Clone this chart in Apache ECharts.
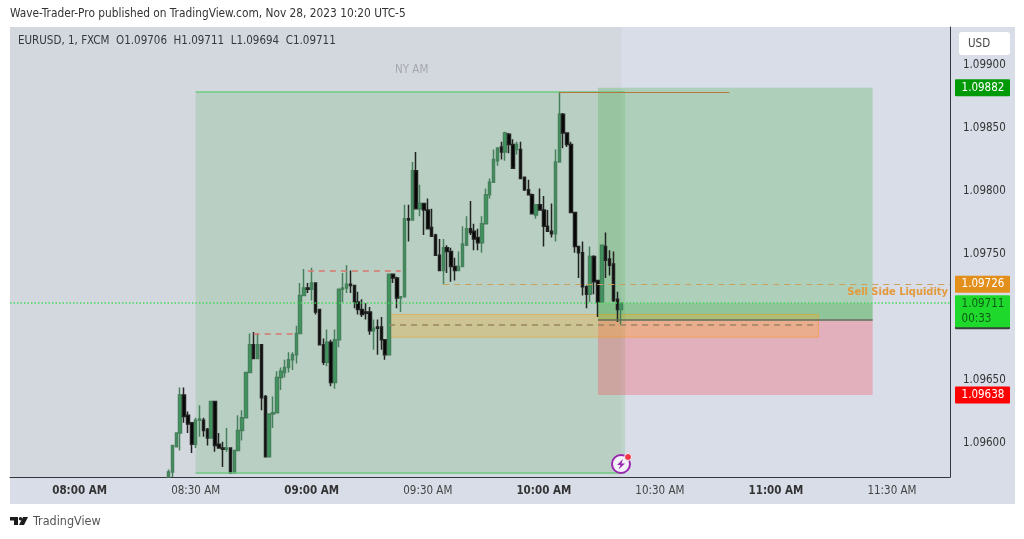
<!DOCTYPE html>
<html>
<head>
<meta charset="utf-8">
<style>html,body{margin:0;padding:0;background:#fff}#main{width:1024px;height:539px}</style>
<script src="https://cdn.jsdelivr.net/npm/echarts@6/dist/echarts.min.js"></script>
</head>
<body>
<div id="main"></div>
<script>
// one minute bars, [open, close, low, high], first bar is 08:23
var ohlc = [
[1.09573,1.09577,1.09573,1.09579],[1.09577,1.09598,1.09573,1.09598],[1.09597,1.09608,1.09597,1.09608],[1.09608,1.09638,1.09594,1.09644],
[1.09638,1.09621,1.09616,1.09644],[1.09622,1.09615,1.09608,1.09625],[1.09616,1.09599,1.09592,1.09616],[1.09599,1.09618,1.09596,1.09620],
[1.09618,1.09619,1.09605,1.09630],[1.09618,1.09610,1.09605,1.09620],[1.09611,1.09604,1.09598,1.09612],[1.09604,1.09633,1.09604,1.09633],
[1.09633,1.09598,1.09593,1.09633],[1.09599,1.09596,1.09596,1.09608],[1.09596,1.09595,1.09581,1.09601],[1.09595,1.09596,1.09593,1.09612],
[1.09596,1.09576,1.09576,1.09596],[1.09576,1.09594,1.09576,1.09594],[1.09594,1.09610,1.09594,1.09622],[1.09610,1.09620,1.09602,1.09626],
[1.09620,1.09656,1.09620,1.09656],[1.09656,1.09678,1.09656,1.09687],[1.09678,1.09667,1.09667,1.09688],[1.09667,1.09678,1.09667,1.09687],
[1.09678,1.09636,1.09626,1.09678],[1.09637,1.09589,1.09589,1.09638],[1.09589,1.09623,1.09589,1.09623],[1.09623,1.09624,1.09612,1.09637],
[1.09624,1.09652,1.09624,1.09657],[1.09652,1.09657,1.09642,1.09660],[1.09656,1.09660,1.09652,1.09666],[1.09660,1.09666,1.09656,1.09672],
[1.09666,1.09670,1.09658,1.09672],[1.09670,1.09687,1.09663,1.09693],[1.09687,1.09717,1.09687,1.09727],[1.09717,1.09723,1.09717,1.09738],
[1.09723,1.09722,1.09719,1.09727],[1.09722,1.09727,1.09713,1.09739],[1.09727,1.09704,1.09702,1.09727],[1.09706,1.09678,1.09678,1.09706],
[1.09678,1.09664,1.09662,1.09683],[1.09664,1.09680,1.09661,1.09690],[1.09680,1.09648,1.09645,1.09682],[1.09648,1.09682,1.09643,1.09690],
[1.09682,1.09722,1.09676,1.09722],[1.09722,1.09723,1.09712,1.09735],[1.09723,1.09726,1.09719,1.09741],[1.09726,1.09725,1.09719,1.09737],
[1.09725,1.09712,1.09707,1.09725],[1.09712,1.09706,1.09702,1.09720],[1.09706,1.09702,1.09700,1.09714],[1.09704,1.09703,1.09698,1.09711],
[1.09704,1.09689,1.09686,1.09708],[1.09689,1.09691,1.09674,1.09698],[1.09692,1.09691,1.09670,1.09698],[1.09692,1.09682,1.09674,1.09700],
[1.09682,1.09670,1.09666,1.09682],[1.09670,1.09734,1.09670,1.09734],[1.09734,1.09731,1.09727,1.09734],[1.09731,1.09715,1.09707,1.09732],
[1.09715,1.09716,1.09704,1.09716],[1.09716,1.09778,1.09716,1.09789],[1.09778,1.09777,1.09760,1.09789],[1.09777,1.09816,1.09777,1.09823],
[1.09816,1.09786,1.09786,1.09831],[1.09786,1.09790,1.09780,1.09805],[1.09790,1.09785,1.09765,1.09790],[1.09785,1.09770,1.09770,1.09794],
[1.09771,1.09764,1.09764,1.09786],[1.09765,1.09749,1.09749,1.09766],[1.09749,1.09737,1.09737,1.09762],[1.09737,1.09755,1.09726,1.09762],
[1.09755,1.09752,1.09735,1.09757],[1.09752,1.09740,1.09728,1.09755],[1.09740,1.09737,1.09729,1.09747],[1.09737,1.09740,1.09737,1.09752],
[1.09740,1.09758,1.09740,1.09772],[1.09757,1.09770,1.09757,1.09780],[1.09770,1.09767,1.09765,1.09792],[1.09768,1.09762,1.09753,1.09774],
[1.09763,1.09759,1.09753,1.09770],[1.09759,1.09774,1.09751,1.09780],[1.09774,1.09797,1.09774,1.09802],[1.09797,1.09807,1.09794,1.09810],
[1.09807,1.09825,1.09807,1.09833],[1.09824,1.09834,1.09820,1.09835],[1.09835,1.09831,1.09825,1.09839],[1.09831,1.09846,1.09824,1.09847],
[1.09845,1.09837,1.09830,1.09846],[1.09837,1.09818,1.09818,1.09841],[1.09833,1.09837,1.09829,1.09839],[1.09833,1.09810,1.09810,1.09839],
[1.09811,1.09801,1.09800,1.09811],[1.09801,1.09797,1.09797,1.09809],[1.09797,1.09782,1.09782,1.09798],[1.09781,1.09789,1.09778,1.09789],
[1.09789,1.09785,1.09785,1.09802],[1.09785,1.09772,1.09756,1.09796],[1.09772,1.09768,1.09768,1.09785],[1.09768,1.09766,1.09763,1.09790],
[1.09766,1.09823,1.09760,1.09833],[1.09823,1.09861,1.09823,1.09879],[1.09861,1.09846,1.09834,1.09862],[1.09846,1.09837,1.09835,1.09846],
[1.09837,1.09783,1.09783,1.09839],[1.09783,1.09756,1.09751,1.09783],[1.09756,1.09751,1.09731,1.09756],[1.09751,1.09724,1.09717,1.09760],
[1.09724,1.09718,1.09707,1.09725],[1.09718,1.09748,1.09712,1.09756],[1.09748,1.09728,1.09718,1.09749],[1.09729,1.09712,1.09700,1.09729],
[1.09712,1.09757,1.09712,1.09757],[1.09756,1.09745,1.09731,1.09767],[1.09746,1.09741,1.09733,1.09753],[1.09742,1.09713,1.09712,1.09752],
[1.09714,1.09706,1.09696,1.09720],[1.09706,1.09711,1.09694,1.09711]
];
var firstBar = '08:23 AM';
var xTickLabels = ['08:00 AM','08:30 AM','09:00 AM','09:30 AM','10:00 AM','10:30 AM','11:00 AM','11:30 AM'];
var yTickLabels = [1.099,1.0985,1.098,1.0975,1.0965,1.096];
var priceTags = [1.09882,1.09726,1.09711,1.09638];

// 07:42 .. 11:45 by the minute
var categories = [];
for (var m = 462; m <= 705; m++) {
    var hh = Math.floor(m / 60), mm = m % 60;
    categories.push((hh < 10 ? '0' : '') + hh + ':' + (mm < 10 ? '0' : '') + mm + ' AM');
}
var pad = categories.indexOf(firstBar);
var candleData = [];
for (var i = 0; i < pad; i++) candleData.push('-');
candleData = candleData.concat(ohlc);

var font = '"DejaVu Sans Condensed","DejaVu Sans",sans-serif';
var first = categories[0], last = categories[categories.length - 1];

function tag(value, bg, color, text, labelExtra) {
    return {
        yAxis: value,
        lineStyle: {color: 'transparent', width: 0},
        label: Object.assign({
            show: true, position: 'end', distance: 5, formatter: text,
            backgroundColor: bg, color: color, fontFamily: font, fontSize: 11.5,
            width: 55, height: 17, lineHeight: 17, align: 'left', padding: 0, borderRadius: 1
        }, labelExtra || {})
    };
}
function segment(x0, x1, value, color, width, type, label) {
    return [
        {xAxis: x0, yAxis: value, lineStyle: {color: color, width: width, type: type}, label: label || {show: false}},
        {xAxis: x1, yAxis: value}
    ];
}

var myChart = echarts.init(document.getElementById('main'));
var option = {
    animation: false,
    backgroundColor: '#ffffff',
    textStyle: {fontFamily: font},
    title: [
        {text: 'Wave-Trader-Pro published on TradingView.com, Nov 28, 2023 10:20 UTC-5', left: 10, top: 8, padding: 0, textStyle: {fontSize: 11.8, fontWeight: 'normal', color: '#333', fontFamily: font}},
        {text: 'EURUSD, 1, FXCM  O1.09706  H1.09711  L1.09694  C1.09711', left: 18, top: 35, padding: 0, textStyle: {fontSize: 11.5, fontWeight: 'normal', color: '#33383f', fontFamily: font}},
        {text: 'NY AM', left: 395, top: 64, padding: 0, textStyle: {fontSize: 11.5, fontWeight: 'normal', color: '#a5a8ae', fontFamily: font}},
        {text: 'TradingView', left: 33, top: 515, padding: 0, textStyle: {fontSize: 12.5, fontWeight: 'normal', color: '#555', fontFamily: font}}
    ],
    grid: {left: 10, right: 74, top: 27, bottom: 62},
    xAxis: {
        type: 'category',
        data: categories,
        boundaryGap: false,
        axisLine: {lineStyle: {color: '#33363d', width: 1}},
        axisTick: {show: false},
        splitLine: {show: false},
        axisLabel: {
            margin: 8,
            interval: function (idx, name) { return xTickLabels.indexOf(name) >= 0; },
            formatter: function (name) {
                return name.slice(3, 5) === '00' ? '{hour|' + name + '}' : '{half|' + name + '}';
            },
            rich: {
                hour: {fontSize: 11.5, fontWeight: 'bold', color: '#333', fontFamily: font},
                half: {fontSize: 11.5, color: '#444', fontFamily: font}
            }
        }
    },
    yAxis: {
        type: 'value',
        position: 'right',
        min: 1.09573016,
        max: 1.09930159,
        axisLine: {show: true, lineStyle: {color: '#33363d', width: 1}},
        axisTick: {show: false},
        splitLine: {show: false},
        axisLabel: {
            margin: 13,
            customValues: yTickLabels,
            formatter: function (v) { return v.toFixed(5); },
            fontSize: 11.5, color: '#333', fontFamily: font
        }
    },
    series: [
        {
            name: 'EURUSD',
            type: 'candlestick',
            data: candleData,
            barWidth: 3,
            itemStyle: {
                color: '#3c9a5c', borderColor: '#47805c',
                color0: '#000000', borderColor0: '#222222',
                borderColorDoji: '#47805c', borderWidth: 1.5
            },
            markArea: {
                silent: true,
                data: [
                    // chart dims left of the session end
                    [{xAxis: first, itemStyle: {color: 'rgba(176,170,150,0.11)'}}, {xAxis: '10:20 AM'}],
                    // NY AM session box
                    [{xAxis: '08:30 AM', yAxis: 1.09879, itemStyle: {color: 'rgba(76,175,80,0.19)'}}, {xAxis: '10:21 AM', yAxis: 1.09576}],
                    // long position, target
                    [{xAxis: '10:14 AM', yAxis: 1.09882, itemStyle: {color: 'rgba(76,175,80,0.30)'}}, {xAxis: '11:25 AM', yAxis: 1.09698}],
                    // long position, stop
                    [{xAxis: '10:14 AM', yAxis: 1.09698, itemStyle: {color: 'rgba(255,52,70,0.27)'}}, {xAxis: '11:25 AM', yAxis: 1.09638}],
                    // open profit stripe
                    [{xAxis: '10:14 AM', yAxis: 1.09711, itemStyle: {color: 'rgba(76,175,80,0.30)'}}, {xAxis: '11:25 AM', yAxis: 1.09698}],
                    // gold zone
                    [{xAxis: '09:20 AM', yAxis: 1.09702, itemStyle: {color: 'rgba(255,170,20,0.28)', borderColor: 'rgba(255,152,0,0.4)', borderWidth: 1}}, {xAxis: '11:11 AM', yAxis: 1.09684}]
                ]
            },
            markLine: {
                silent: true,
                symbol: 'none',
                precision: 5,
                data: [
                    segment('08:30 AM', '10:21 AM', 1.09879, '#70cc85', 1.5, 'solid'),
                    segment('08:30 AM', '10:21 AM', 1.09576, '#6fc983', 1.5, 'solid'),
                    segment('10:04 AM', '10:48 AM', 1.09878, '#b5763f', 1, 'solid'),
                    segment('10:14 AM', '11:25 AM', 1.09698, '#5b6f5a', 1.5, 'solid'),
                    segment('08:59 AM', '09:23 AM', 1.09737, '#d8766f', 1.5, [6, 5]),
                    segment('08:45 AM', '08:56 AM', 1.09687, '#d8766f', 1.5, [6, 5]),
                    segment(first, last, 1.09711, '#45d858', 1.5, [1.5, 2]),
                    segment('09:20 AM', '11:11 AM', 1.09694, '#9a8464', 1.5, [6, 5]),
                    segment('09:34 AM', last, 1.09726, '#c9a15c', 1, [6, 5], {
                        show: true, position: 'insideEndBottom', distance: 2, formatter: 'Sell Side Liquidity',
                        color: '#e39a3c', fontFamily: font, fontSize: 11, fontWeight: 'bold'
                    }),
                    tag(priceTags[0], '#009a07', '#ffffff', '  ' + priceTags[0].toFixed(5)),
                    tag(priceTags[1], '#e28f1c', '#ffffff', '  ' + priceTags[1].toFixed(5)),
                    tag(priceTags[2], '#1fd82c', '#0d5a17', '  ' + priceTags[2].toFixed(5) + '\n  00:33', {
                        height: 32, lineHeight: 15, offset: [0, 8],
                        shadowColor: '#3a3f3a', shadowOffsetY: 2, shadowBlur: 0
                    }),
                    tag(priceTags[3], '#ff0000', '#ffffff', '  ' + priceTags[3].toFixed(5))
                ]
            }
        }
    ],
    graphic: [
        {type: 'rect', z: -100, shape: {x: 10, y: 27, width: 1005, height: 477}, style: {fill: '#d8dde8'}},
        {type: 'rect', z: 100, shape: {x: 959, y: 32, width: 51, height: 23, r: 3}, style: {fill: '#ffffff'}},
        {type: 'text', z: 101, x: 968, y: 38, style: {text: 'USD', fontSize: 11.5, fontFamily: font, fill: '#444'}},
        // alert icon
        {type: 'circle', z: 100, shape: {cx: 621, cy: 464, r: 9}, style: {fill: '#f4f2fa', stroke: '#9c27b0', lineWidth: 2}},
        {type: 'polygon', z: 101, shape: {points: [[623, 459], [617, 465], [620.5, 465], [618.5, 469.5], [625, 463.5], [621.5, 463.5]]}, style: {fill: '#9c27b0'}},
        {type: 'circle', z: 102, shape: {cx: 628, cy: 457, r: 3.5}, style: {fill: '#f23645', stroke: '#f4f2fa', lineWidth: 1}},
        // TV logo
        {type: 'polygon', shape: {points: [[10, 517], [18, 517], [18, 525], [14, 525], [14, 520.5], [10, 520.5]]}, style: {fill: '#1c1c1c'}},
        {type: 'circle', shape: {cx: 20.5, cy: 518.7, r: 1.7}, style: {fill: '#1c1c1c'}},
        {type: 'polygon', shape: {points: [[23, 517], [28, 517], [24, 525], [19, 525]]}, style: {fill: '#1c1c1c'}}
    ]
};
myChart.setOption(option);
</script>
</body>
</html>
